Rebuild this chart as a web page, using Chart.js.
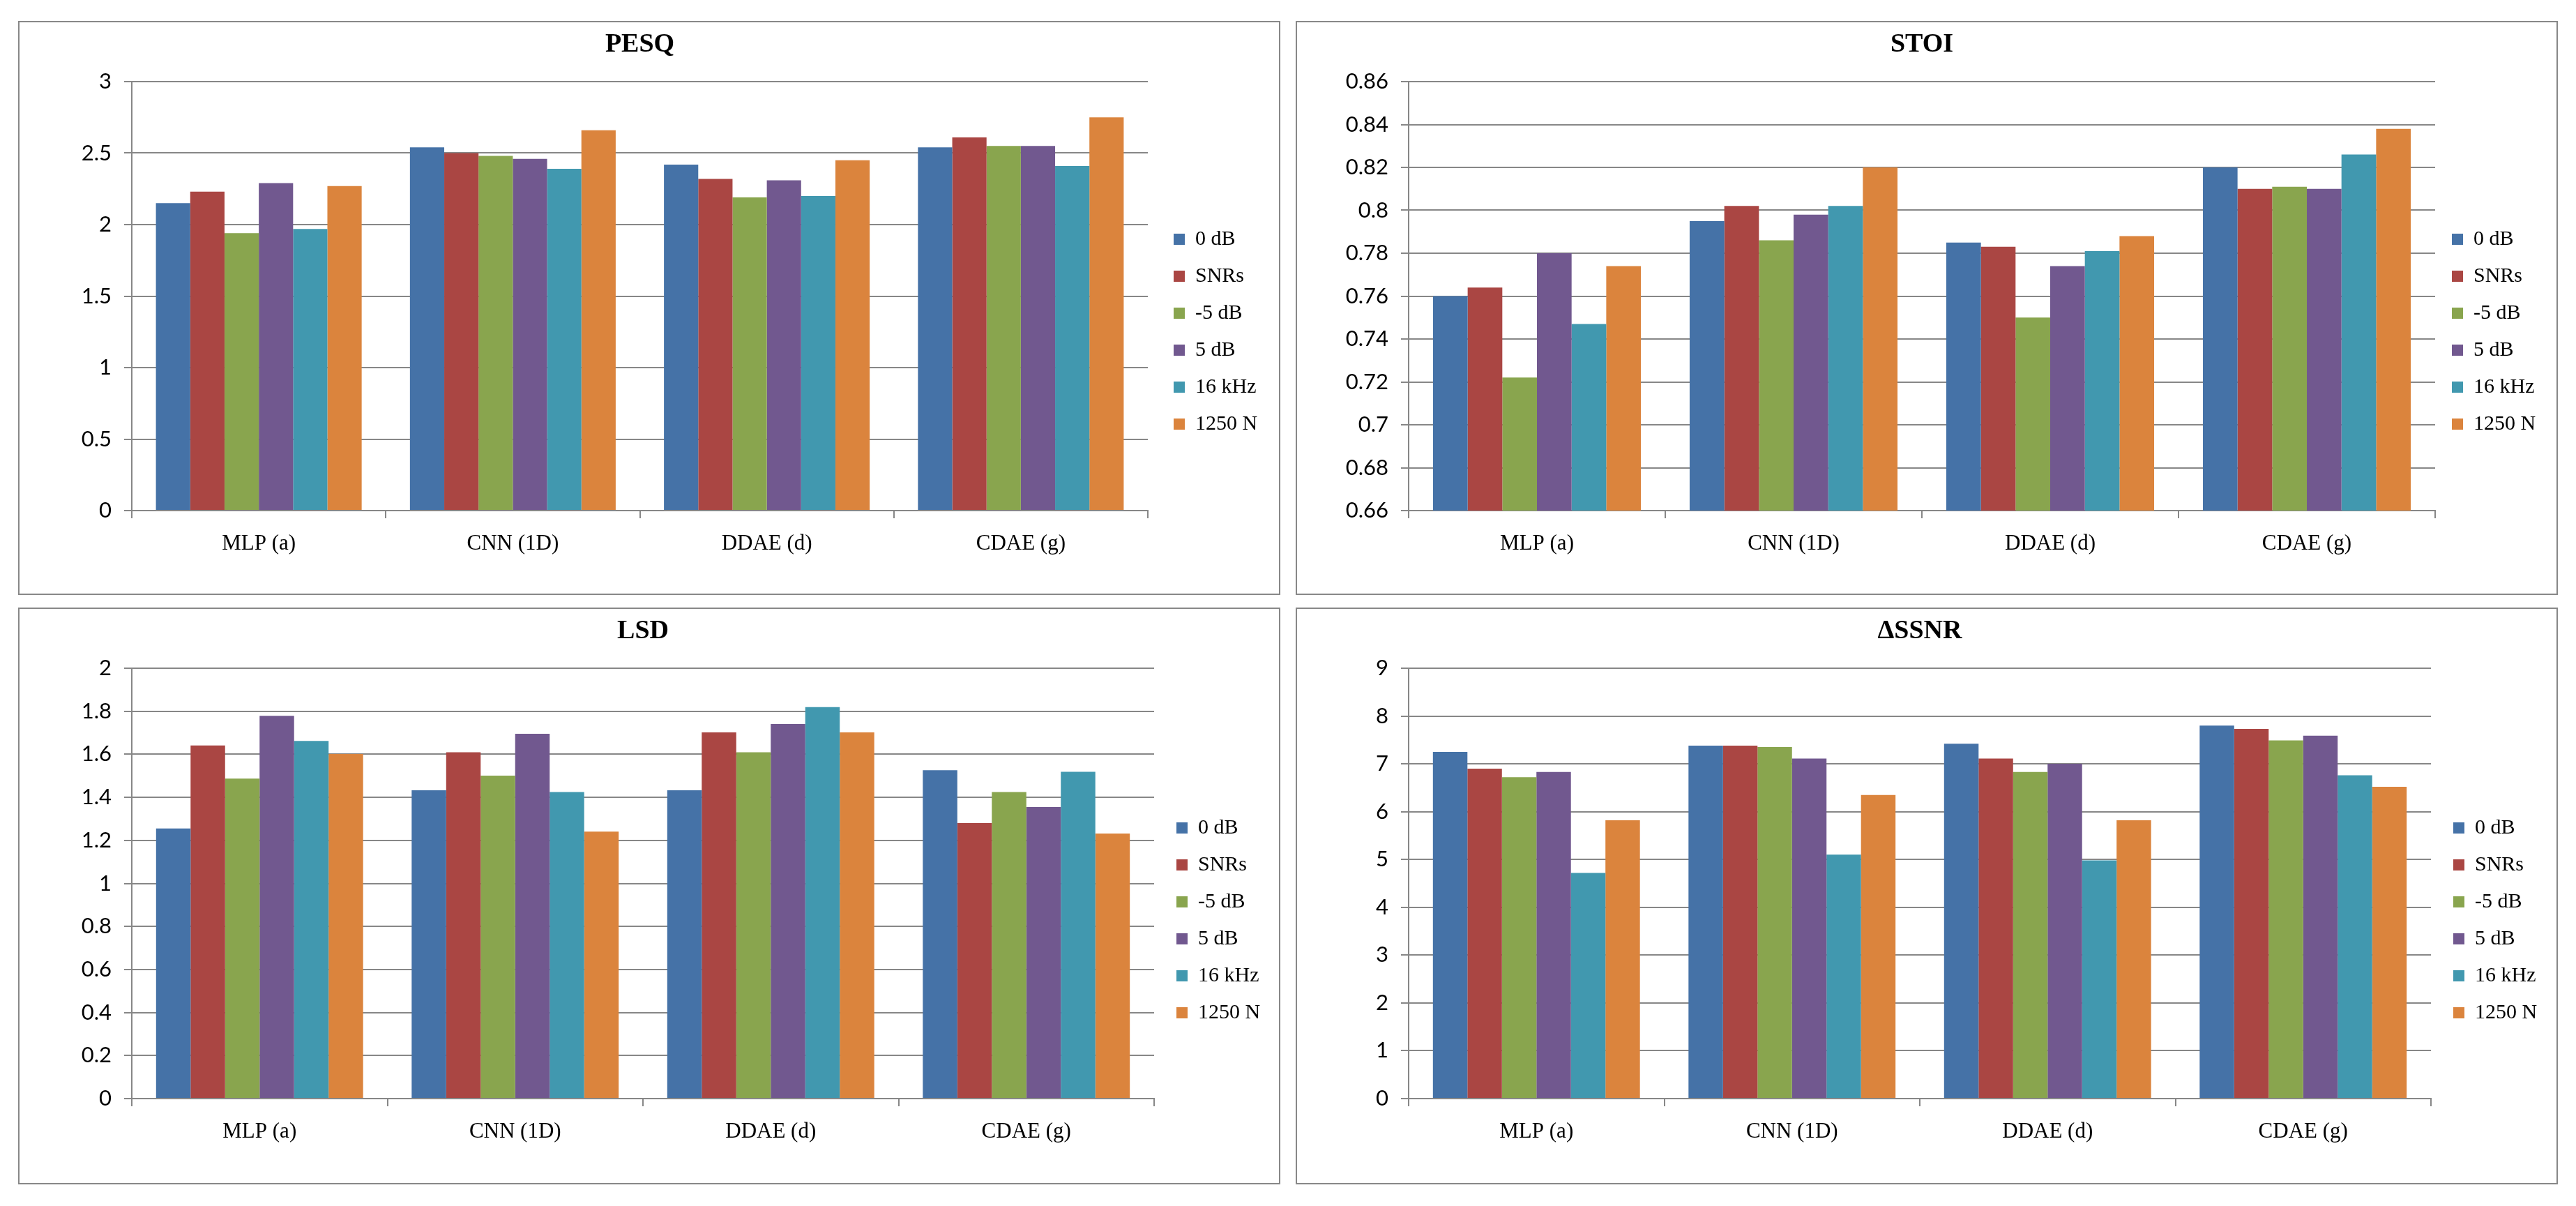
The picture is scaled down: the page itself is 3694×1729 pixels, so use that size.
<!DOCTYPE html>
<html>
<head>
<meta charset="utf-8">
<script src="https://cdn.jsdelivr.net/npm/chart.js@4.4.0/dist/chart.umd.min.js"></script>
<style>
  body { margin: 0; background: #fff; width: 3694px; height: 1729px; position: relative; overflow: hidden; }
  .panel { position: absolute; border: 2px solid #888; box-sizing: border-box; background: #fff; }
  .panel canvas { position: absolute; left: 0; top: 0; }
</style>
</head>
<body>
<div class="panel" style="left:26px;top:30px;width:1810px;height:823px"><canvas id="pesq" width="1806" height="819"></canvas></div>
<div class="panel" style="left:1858px;top:30px;width:1810px;height:823px"><canvas id="stoi" width="1806" height="819"></canvas></div>
<div class="panel" style="left:26px;top:871px;width:1810px;height:827px"><canvas id="lsd" width="1806" height="823"></canvas></div>
<div class="panel" style="left:1858px;top:871px;width:1810px;height:827px"><canvas id="ssnr" width="1806" height="823"></canvas></div>
<script>
const categories = ['MLP (a)', 'CNN (1D)', 'DDAE (d)', 'CDAE (g)'];
const seriesNames = ['0 dB', 'SNRs', '-5 dB', '5 dB', '16 kHz', '1250 N'];
const seriesColors = ['#4572A7', '#AA4643', '#89A54E', '#71588F', '#4198AF', '#DB843D'];

// one row per series (same order as seriesNames), one value per category
const pesq = [
  [2.15, 2.54, 2.42, 2.54],
  [2.23, 2.50, 2.32, 2.61],
  [1.94, 2.48, 2.19, 2.55],
  [2.29, 2.46, 2.31, 2.55],
  [1.97, 2.39, 2.20, 2.41],
  [2.27, 2.66, 2.45, 2.75]
];
const stoi = [
  [0.760, 0.795, 0.785, 0.820],
  [0.764, 0.802, 0.783, 0.810],
  [0.722, 0.786, 0.750, 0.811],
  [0.780, 0.798, 0.774, 0.810],
  [0.747, 0.802, 0.781, 0.826],
  [0.774, 0.820, 0.788, 0.838]
];
const lsd = [
  [1.255, 1.433, 1.433, 1.526],
  [1.641, 1.609, 1.702, 1.280],
  [1.487, 1.501, 1.609, 1.425],
  [1.779, 1.695, 1.741, 1.355],
  [1.662, 1.425, 1.819, 1.519],
  [1.601, 1.241, 1.702, 1.232]
];
const ssnr = [
  [7.25, 7.38, 7.42, 7.80],
  [6.90, 7.38, 7.11, 7.73],
  [6.72, 7.35, 6.83, 7.49],
  [6.83, 7.11, 7.00, 7.59],
  [4.72, 5.10, 4.98, 6.76],
  [5.82, 6.35, 5.82, 6.52]
];

const pesqTicks = ['0', '0.5', '1', '1.5', '2', '2.5', '3'];
const stoiTicks = ['0.66', '0.68', '0.7', '0.72', '0.74', '0.76', '0.78', '0.8', '0.82', '0.84', '0.86'];
const lsdTicks = ['0', '0.2', '0.4', '0.6', '0.8', '1', '1.2', '1.4', '1.6', '1.8', '2'];
const ssnrTicks = ['0', '1', '2', '3', '4', '5', '6', '7', '8', '9'];

const gridColor = '#878787';
const serif = 'Liberation Serif';

function drawPanel(id, title, values, ticks, yMin, yMax, step, area, legendTop, legendDx) {
  const chart = new Chart(document.getElementById(id), {
    type: 'bar',
    data: {
      labels: categories,
      datasets: seriesNames.map((name, i) => ({
        label: name,
        data: values[i],
        backgroundColor: seriesColors[i],
        borderWidth: 0,
        categoryPercentage: 0.81,
        barPercentage: 1
      }))
    },
    options: {
      responsive: false,
      animation: false,
      devicePixelRatio: 1,
      layout: { padding: { left: 0, top: 0, right: 0, bottom: 0 } },
      plugins: {
        title: {
          display: true, text: title, fullSize: false, color: '#000',
          font: { family: serif, size: 38, weight: 'bold', lineHeight: 1.2 },
          padding: { top: 0, bottom: 30 }
        },
        legend: {
          position: 'right', align: 'start', fullSize: false,
          title: { display: true, text: '', font: { size: 10, lineHeight: 1 }, padding: { top: legendTop - 48, bottom: 0 } },
          labels: { boxWidth: 16, boxHeight: 16, padding: 23, color: '#000', font: { family: serif, size: 30 } }
        },
        tooltip: { enabled: false }
      },
      scales: {
        x: {
          grid: { drawOnChartArea: false, color: gridColor, lineWidth: 2, tickLength: 11, offset: true },
          border: { color: gridColor, width: 2 },
          ticks: { color: '#000', padding: 18, font: { family: serif, size: 31 } }
        },
        y: {
          min: yMin, max: yMax,
          grid: { color: gridColor, lineWidth: 2, tickLength: 11 },
          border: { color: gridColor, width: 2 },
          ticks: {
            stepSize: step, color: '#000', padding: 18, font: { family: 'Lato', size: 31 },
            callback: v => ticks.find(t => Math.abs(parseFloat(t) - v) < step / 10) ?? ''
          }
        }
      }
    },
    plugins: [{
      id: 'legendGap',
      afterLayout(c) {
        c.legend.left += legendDx;
        c.legend.right += legendDx;
      }
    }]
  });

  // nudge the outer padding so the plot area lands where the reference has it
  for (let k = 0; k < 3; k++) {
    const ca = chart.chartArea;
    const p = chart.config.options.layout.padding;
    chart.config.options.layout.padding = {
      left: p.left + area.left - ca.left,
      top: p.top + area.top - ca.top,
      right: p.right + ca.right - area.right,
      bottom: p.bottom + ca.bottom - area.bottom
    };
    chart.update();
  }
}

drawPanel('pesq', 'PESQ', pesq, pesqTicks, 0, 3, 0.5, { left: 161, top: 85, right: 1618, bottom: 700 }, 226, 14);
drawPanel('stoi', 'STOI', stoi, stoiTicks, 0.66, 0.86, 0.02, { left: 160, top: 85, right: 1632, bottom: 700 }, 226, 1);
drawPanel('lsd', 'LSD', lsd, lsdTicks, 0, 2, 0.2, { left: 161, top: 85, right: 1627, bottom: 702 }, 229, 9);
drawPanel('ssnr', 'ΔSSNR', ssnr, ssnrTicks, 0, 9, 1, { left: 160, top: 85, right: 1626, bottom: 702 }, 229, 9);
</script>
</body>
</html>
